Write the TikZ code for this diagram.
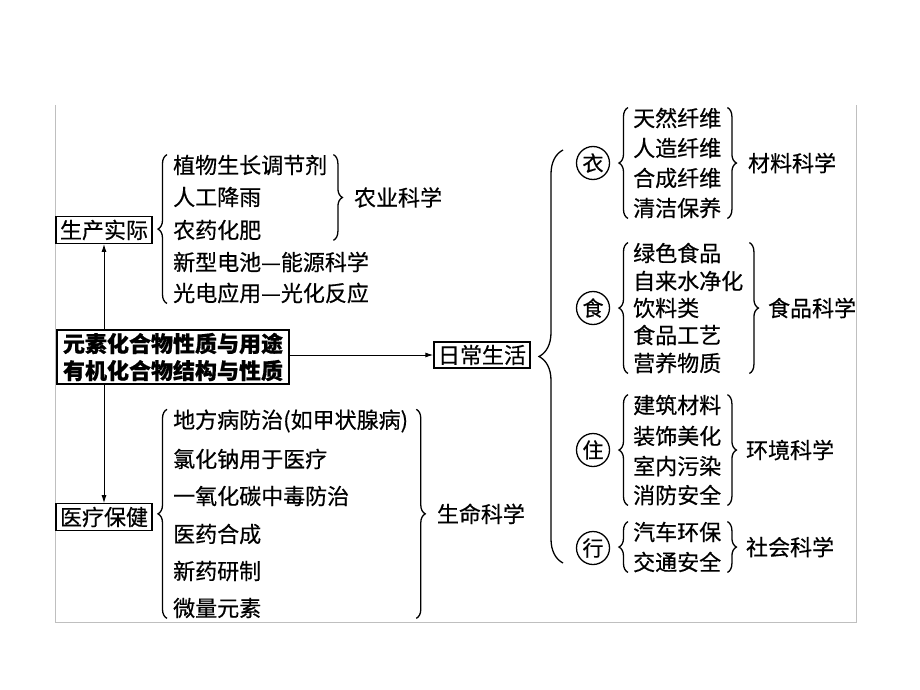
\documentclass[tikz,border=0pt]{standalone}
\usepackage{fontspec}
\setmainfont{Noto Sans CJK SC}[FakeBold=0.5]
\usetikzlibrary{arrows.meta,positioning,decorations.pathreplacing}
\tikzset {
	topic/.style={rectangle, draw, line width=1.3pt, inner xsep=4pt, inner ysep=3pt, font=\fontsize{22}{26}\selectfont},
	core/.style={rectangle, draw, line width=2pt, inner xsep=6pt, inner ysep=3pt, align=left, font=\bfseries\fontsize{22}{27}\selectfont},
	item/.style={anchor=west, inner sep=0pt, font=\fontsize{22}{26}\selectfont},
	field/.style={anchor=west, inner sep=0pt, font=\fontsize{22}{26}\selectfont},
	area/.style={circle, draw, line width=1.3pt, inner sep=0pt, minimum size=33pt, font=\fontsize{21}{24}\selectfont},
	lbrace/.style={decorate, decoration={brace, amplitude=9pt, mirror}, line width=1.3pt},
	rbrace/.style={decorate, decoration={brace, amplitude=9pt}, line width=1.3pt},
	bigbrace/.style={decorate, decoration={brace, amplitude=24pt, mirror}, line width=1.3pt},
	link/.style={-{Latex[length=8pt,width=5pt]}, line width=1pt},
	frame/.style={draw=black!25, line width=1pt}
}
\begin{document}
\begin{tikzpicture}[x=1pt, y=-1pt]
	\useasboundingbox (0,0) rectangle (920,690);
	\draw[frame] (55,105) -- (55,622) -- (856,622) -- (856,105);

	\node[core] (core) at (173,357) {元素化合物性质与用途\\有机化合物结构与性质};
	\node[topic] (prod) at (104,230) {生产实际};
	\node[topic] (med) at (104,517) {医疗保健};
	\node[topic] (life) at (482,355) {日常生活};

	\draw[link] (prod.south |- core.north) -- (prod.south);
	\draw[link] (med.north |- core.south) -- (med.north);
	\draw[link] (core.east |- life.west) -- (life.west);

	\node[item] (p1) at (173,165) {植物生长调节剂};
	\node[item] (p2) at (173,197) {人工降雨};
	\node[item] (p3) at (173,230) {农药化肥};
	\node[item] (p4) at (173,262) {新型电池—能源科学};
	\node[item] (p5) at (173,293) {光电应用—光化反应};
	\draw[lbrace] ([xshift=-6pt]p1.north west) -- ([xshift=-6pt]p5.south west);
	\draw[rbrace] ([xshift=6pt]p1.north east) -- ([xshift=6pt]p1.east |- p3.south)
		node[field, midway, xshift=20pt] (agri) {农业科学};

	\node[item] (m1) at (173,421) {地方病防治(如甲状腺病)};
	\node[item] (m2) at (173,459) {氯化钠用于医疗};
	\node[item] (m3) at (173,496) {一氧化碳中毒防治};
	\node[item] (m4) at (173,534) {医药合成};
	\node[item] (m5) at (173,571) {新药研制};
	\node[item] (m6) at (173,608) {微量元素};
	\draw[lbrace] ([xshift=-6pt]m1.north west) -- ([xshift=-6pt]m6.south west);
	\draw[rbrace] ([xshift=8pt]m1.north east) -- ([xshift=8pt]m1.east |- m6.south)
		node[field, midway, xshift=20pt] (bio) {生命科学};

	\coordinate (top) at (563,150);
	\coordinate (bot) at (563,563);
	\draw[bigbrace] (top) -- (bot);

	\node[area] (yi) at (593,163) {衣};
	\node[item] (y1) at (633,118) {天然纤维};
	\node[item] (y2) at (633,148) {人造纤维};
	\node[item] (y3) at (633,178) {合成纤维};
	\node[item] (y4) at (633,208) {清洁保养};
	\draw[lbrace] ([xshift=-5pt]y1.north west) -- ([xshift=-5pt]y4.south west);
	\draw[rbrace] ([xshift=6pt]y1.north east) -- ([xshift=6pt]y4.south east)
		node[field, midway, xshift=20pt] (mat) {材料科学};

	\node[area] (shi) at (593,308) {食};
	\node[item] (s1) at (633,253) {绿色食品};
	\node[item] (s2) at (633,281) {自来水净化};
	\node[item] (s3) at (633,308) {饮料类};
	\node[item] (s4) at (633,335) {食品工艺};
	\node[item] (s5) at (633,363) {营养物质};
	\draw[lbrace] ([xshift=-5pt]s1.north west) -- ([xshift=-5pt]s5.south west);
	\draw[rbrace] ([xshift=6pt]s2.east |- s1.north) -- ([xshift=6pt]s2.east |- s5.south)
		node[field, midway, xshift=18pt] (food) {食品科学};

	\node[area] (zhu) at (593,450) {住};
	\node[item] (z1) at (633,405) {建筑材料};
	\node[item] (z2) at (633,436) {装饰美化};
	\node[item] (z3) at (633,466) {室内污染};
	\node[item] (z4) at (633,495) {消防安全};
	\draw[lbrace] ([xshift=-5pt]z1.north west) -- ([xshift=-5pt]z4.south west);
	\draw[rbrace] ([xshift=6pt]z1.north east) -- ([xshift=6pt]z4.south east)
		node[field, midway, xshift=18pt] (env) {环境科学};

	\node[area] (xing) at (593,548) {行};
	\node[item] (x1) at (633,532) {汽车环保};
	\node[item] (x2) at (633,562) {交通安全};
	\draw[lbrace] ([xshift=-5pt]x1.north west) -- ([xshift=-5pt]x2.south west);
	\draw[rbrace] ([xshift=6pt]x1.north east) -- ([xshift=6pt]x2.south east)
		node[field, midway, xshift=18pt] (soc) {社会科学};
\end{tikzpicture}
\end{document}
